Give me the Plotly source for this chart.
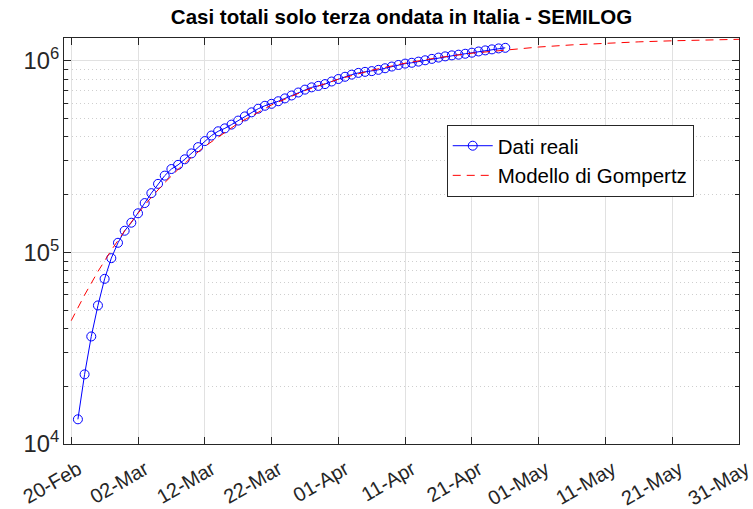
import plotly.graph_objects as go
import datetime as _dt

# Real data: cumulative third-wave cases (21-Feb-2021 .. 26-Apr-2021)
data_start = "2021-02-21"
dati_reali = [
    13452, 23082, 36396, 52820, 72706, 93205, 112121, 129576,
    142690, 159773, 180657, 203522, 227558, 251199, 271964, 285866,
    305615, 328024, 353697, 380521, 406583, 427898, 443165, 463561,
    486620, 511555, 537290, 561122, 581281, 595127, 613892, 635159,
    657916, 681755, 705742, 725353, 738269, 754286, 778190, 801839,
    823771, 845032, 863057, 873737, 881504, 895212, 912433, 931371,
    948938, 964684, 974473, 987920, 1004088, 1021062, 1037005, 1052375,
    1065069, 1073933, 1086007, 1099851, 1116083, 1130844, 1144661, 1157819,
    1166263,
]

# Gompertz model curve, read at sample dates
model_dates = [
    "2021-02-20", "2021-02-22", "2021-02-24", "2021-02-26", "2021-02-28",
    "2021-03-02", "2021-03-04", "2021-03-06", "2021-03-08", "2021-03-10",
    "2021-03-12", "2021-03-17", "2021-03-22", "2021-03-27", "2021-04-01",
    "2021-04-06", "2021-04-11", "2021-04-16", "2021-04-21", "2021-04-26",
    "2021-05-01", "2021-05-06", "2021-05-11", "2021-05-16", "2021-05-21",
    "2021-05-26", "2021-05-31",
]
model_values = [
    44000, 59900, 79400, 102600, 129400,
    159900, 193800, 230900, 270700, 312700,
    356700, 471200, 587100, 698100, 800000,
    891000, 969700, 1036900, 1093000, 1139400,
    1177300, 1208200, 1232900, 1252900, 1268800,
    1281600, 1291700,
]

tick_dates = [
    "2021-02-20", "2021-03-02", "2021-03-12", "2021-03-22", "2021-04-01",
    "2021-04-11", "2021-04-21", "2021-05-01", "2021-05-11", "2021-05-21",
    "2021-05-31",
]
tick_labels = [
    "20-Feb", "02-Mar", "12-Mar", "22-Mar", "01-Apr", "11-Apr", "21-Apr",
    "01-May", "11-May", "21-May", "31-May",
]

_d0 = _dt.date.fromisoformat(data_start)
data_dates = [(_d0 + _dt.timedelta(days=i)).isoformat() for i in range(len(dati_reali))]

FONT = "Liberation Sans, Arial, Helvetica, sans-serif"
fig = go.Figure()
fig.add_trace(go.Scatter(
    x=data_dates, y=dati_reali, mode="lines+markers", name="Dati reali",
    line=dict(color="#0000FF", width=1),
    marker=dict(symbol="circle-open", size=9, color="#0000FF", line=dict(width=1)),
))
fig.add_trace(go.Scatter(
    x=model_dates, y=model_values, mode="lines", name="Modello di Gompertz",
    line=dict(color="#FF0000", width=1, dash="8px,6px"),
))

fig.update_layout(
    width=753, height=509,
    margin=dict(l=64, r=14, t=38, b=65),
    paper_bgcolor="white", plot_bgcolor="white",
    font=dict(family=FONT, color="#262626"),
    title=dict(text="<b>Casi totali solo terza ondata in Italia - SEMILOG</b>",
               xref="paper", x=0.5, xanchor="center",
               yref="container", y=0.966, yanchor="middle",
               font=dict(size=20.5, color="black", family=FONT)),
    showlegend=True,
    legend=dict(x=0.567, y=0.786, xanchor="left", yanchor="top",
                bgcolor="white", bordercolor="#262626", borderwidth=1,
                font=dict(size=20.5, color="black", family=FONT),
                tracegroupgap=0, itemwidth=40),
)
fig.update_xaxes(
    type="date", range=["2021-02-18 22:00", "2021-05-31"],
    tickvals=tick_dates, ticktext=tick_labels, tickangle=-30,
    tickfont=dict(size=20, color="#262626"),
    ticklabelstandoff=5, ticklabelshift=7,
    ticks="inside", ticklen=7, tickcolor="#262626", automargin=False,
    showline=True, linecolor="#262626", linewidth=1, mirror="allticks",
    showgrid=True, gridcolor="#E1E1E1", gridwidth=1, zeroline=False,
)
fig.update_yaxes(
    type="log", range=[4, 6.118], dtick=1, exponentformat="power",
    showexponent="all", automargin=False,
    tickfont=dict(size=19, color="#262626"),
    ticks="inside", ticklen=7, tickcolor="#262626",
    showline=True, linecolor="#262626", linewidth=1, mirror="allticks",
    showgrid=True, gridcolor="#E1E1E1", gridwidth=1, zeroline=False,
    minor=dict(dtick="D1", ticks="inside", ticklen=4, tickcolor="#262626",
               showgrid=True, gridcolor="#CFCFCF", griddash="1px,3px", gridwidth=1),
)

fig.write_html("out.html", config={"displayModeBar": False},
               post_script="document.body.style.margin='0';document.body.style.overflow='hidden';")
